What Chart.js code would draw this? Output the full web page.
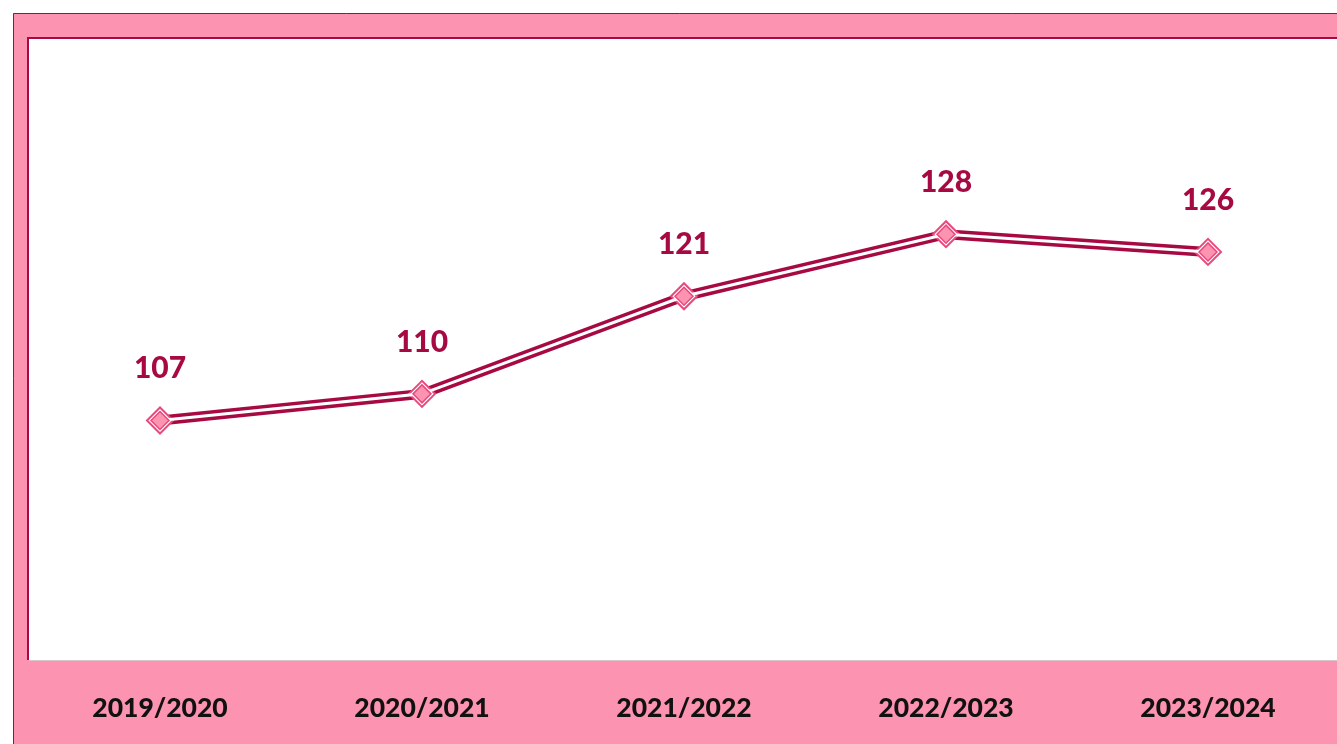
<!DOCTYPE html>
<html><head><meta charset="utf-8">
<script src="https://cdn.jsdelivr.net/npm/chart.js@4"></script>
<style>
html,body{margin:0;padding:0;background:#fff;overflow:hidden;width:1337px;height:744px;}
#wrap{position:absolute;left:0;top:0;width:1345px;height:744px;}
</style></head><body>
<div id="wrap"><canvas id="c" width="1345" height="744"></canvas></div>
<script>
const categories = ["2019/2020","2020/2021","2021/2022","2022/2023","2023/2024"];
const values = [107,110,121,128,126];
const yMin = 80, yMax = 150;

const PINK = '#fb93b1', CRIMSON = '#a70a43', MARK = '#e9487d';

const framePlugin = {
  id:'frame',
  beforeDraw(chart){
    const ctx = chart.ctx, a = chart.chartArea;
    ctx.save();
    ctx.fillStyle = PINK;
    ctx.fillRect(13,13,chart.width-13,chart.height-13);
    ctx.strokeStyle = CRIMSON; ctx.lineWidth = 1;
    ctx.beginPath(); ctx.moveTo(13.5,chart.height); ctx.lineTo(13.5,13.5); ctx.lineTo(chart.width,13.5); ctx.stroke();
    ctx.fillStyle = '#fff';
    ctx.fillRect(a.left,a.top,a.right-a.left,a.bottom-a.top);
    ctx.strokeStyle = CRIMSON; ctx.lineWidth = 2;
    ctx.beginPath(); ctx.moveTo(a.left-1,a.bottom); ctx.lineTo(a.left-1,a.top-1); ctx.lineTo(chart.width,a.top-1); ctx.stroke();
    ctx.strokeStyle = '#d9c3c9'; ctx.lineWidth = 1;
    ctx.beginPath(); ctx.moveTo(a.left,a.bottom+0.5); ctx.lineTo(chart.width,a.bottom+0.5); ctx.stroke();
    ctx.restore();
  },
  afterDatasetsDraw(chart){
    const ctx = chart.ctx;
    const meta = chart.getDatasetMeta(0);
    ctx.save();
    ctx.font = '900 30px Lato';
    ctx.fillStyle = CRIMSON;
    ctx.textAlign = 'center'; ctx.textBaseline = 'middle';
    meta.data.forEach((p,i)=>{ ctx.fillText(String(values[i]), p.x, p.y-52); });
    ctx.restore();
  }
};

new Chart(document.getElementById('c'),{
  type:'line',
  data:{labels:categories,datasets:[
    {data:values,borderColor:CRIMSON,borderWidth:10,pointStyle:'rectRot',pointRadius:13,pointBackgroundColor:'#fff',pointBorderColor:MARK,pointBorderWidth:2,tension:0,order:2},
    {data:values,borderColor:'#fff',borderWidth:3,pointStyle:'rectRot',pointRadius:9,pointBackgroundColor:PINK,pointBorderColor:MARK,pointBorderWidth:1.5,tension:0,order:1}
  ]},
  options:{
    responsive:false,animation:false,
    layout:{autoPadding:false,padding:{left:29,top:39,right:6,bottom:0}},
    plugins:{legend:{display:false},tooltip:{enabled:false}},
    scales:{
      x:{offset:true,grid:{display:false,drawTicks:false},border:{display:false},
        ticks:{color:'#111',font:{family:'Lato',weight:'900',size:26.5},padding:33,maxRotation:0},
        afterFit(s){s.height=84;}},
      y:{display:false,min:yMin,max:yMax}
    }
  },
  plugins:[framePlugin]
});
</script></body></html>
